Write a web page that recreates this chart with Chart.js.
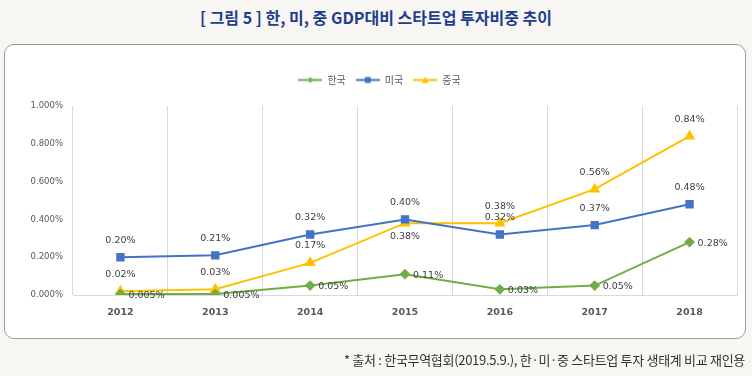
<!DOCTYPE html>
<html>
<head>
<meta charset="utf-8">
<script src="https://cdn.jsdelivr.net/npm/chart.js@4/dist/chart.umd.min.js"></script>
<style>
  html, body { margin: 0; padding: 0; }
  body { width: 752px; height: 376px; background: #f8f6f2; position: relative; overflow: hidden; font-family: "Noto Sans CJK KR", sans-serif; }
  #title { position: absolute; left: 0; top: 5px; width: 752px; text-align: center; font-size: 16px; font-weight: bold; color: #1f3d8f; line-height: 24px; }
  #box { position: absolute; left: 4px; top: 44px; width: 740px; height: 293px; background: #fff; border: 1.5px solid #9c9c9c; border-radius: 10px; }
  #wrap { position: absolute; left: 0; top: 0; width: 752px; height: 376px; }
  #note { position: absolute; right: 7px; top: 350px; font-size: 13px; color: #333; line-height: 20px; letter-spacing: -0.3px; }
</style>
</head>
<body>
<div id="title">[ 그림 5 ] 한, 미, 중 GDP대비 스타트업 투자비중 추이</div>
<div id="box"></div>
<div id="wrap"><canvas id="chart" width="752" height="376"></canvas></div>
<div id="note">* 출처 : 한국무역협회(2019.5.9.), 한·미·중 스타트업 투자 생태계 비교 재인용</div>
<script>
// values (GDP share, %)
const years = ['2012', '2013', '2014', '2015', '2016', '2017', '2018'];
const korea = [0.005, 0.005, 0.05, 0.11, 0.03, 0.05, 0.28];
const usa = [0.20, 0.21, 0.32, 0.40, 0.32, 0.37, 0.48];
const china = [0.02, 0.03, 0.17, 0.38, 0.38, 0.56, 0.84];
const seriesNames = ['한국', '미국', '중국'];
const yTicks = [0, 0.2, 0.4, 0.6, 0.8, 1.0];

const GREEN = '#70ad47', BLUE = '#4472c4', YELLOW = '#ffc000';

function fmt(v) {
  return v.toFixed(v < 0.01 ? 3 : 2) + '%';
}

// little line+marker swatch for the legend, like excel does it
function swatch(color, shape) {
  const c = document.createElement('canvas');
  c.width = 24; c.height = 9;
  const g = c.getContext('2d');
  g.strokeStyle = color; g.fillStyle = color; g.lineWidth = 2;
  g.beginPath(); g.moveTo(0, 4.5); g.lineTo(24, 4.5); g.stroke();
  g.beginPath();
  if (shape === 'diamond') {
    g.moveTo(12, 1.5); g.lineTo(15, 4.5); g.lineTo(12, 7.5); g.lineTo(9, 4.5);
  } else if (shape === 'square') {
    g.rect(9, 1.5, 6, 6);
  } else {
    g.moveTo(12, 1); g.lineTo(15.5, 7.5); g.lineTo(8.5, 7.5);
  }
  g.closePath(); g.fill();
  return c;
}
const swatches = [swatch(GREEN, 'diamond'), swatch(BLUE, 'square'), swatch(YELLOW, 'triangle')];

// value labels next to each point
const valueLabels = {
  id: 'valueLabels',
  afterDatasetsDraw(chart) {
    const ctx = chart.ctx;
    ctx.save();
    ctx.font = '9.5px "DejaVu Sans"';
    ctx.fillStyle = '#404040';
    chart.data.datasets.forEach((ds, i) => {
      const meta = chart.getDatasetMeta(i);
      meta.data.forEach((pt, j) => {
        const pos = ds.labelPos[j];
        const txt = fmt(ds.data[j]);
        if (pos === 'right') {
          ctx.textAlign = 'left'; ctx.textBaseline = 'middle';
          ctx.fillText(txt, pt.x + 8, pt.y + 1);
        } else if (pos === 'bottom') {
          ctx.textAlign = 'center'; ctx.textBaseline = 'middle';
          ctx.fillText(txt, pt.x, pt.y + 13);
        } else {
          ctx.textAlign = 'center'; ctx.textBaseline = 'middle';
          ctx.fillText(txt, pt.x, pt.y - 17);
        }
      });
    });
    ctx.restore();
  }
};

const ctx = document.getElementById('chart').getContext('2d');
const chart = new Chart(ctx, {
  type: 'line',
  data: {
    labels: years,
    datasets: [
      { label: seriesNames[0], data: korea, borderColor: GREEN, backgroundColor: GREEN, borderWidth: 2,
        pointStyle: 'rectRot', pointRadius: 4, tension: 0, labelPos: years.map(() => 'right') },
      { label: seriesNames[1], data: usa, borderColor: BLUE, backgroundColor: BLUE, borderWidth: 2,
        pointStyle: 'rect', pointRadius: 4.5, tension: 0, labelPos: years.map(() => 'top') },
      { label: seriesNames[2], data: china, borderColor: YELLOW, backgroundColor: YELLOW, borderWidth: 2,
        pointStyle: 'triangle', pointRadius: 4.5, tension: 0,
        labelPos: ['top', 'top', 'top', 'bottom', 'top', 'top', 'top'] }
    ]
  },
  options: {
    responsive: false,
    animation: false,
    layout: { padding: { left: 22, right: 15, top: 65, bottom: 51 } },
    plugins: {
      tooltip: { enabled: false },
      legend: {
        position: 'top',
        labels: {
          usePointStyle: true,
          pointStyleWidth: 24,
          padding: 10,
          color: '#595959',
          font: { family: '"Noto Sans CJK KR"', size: 10 },
          generateLabels: (c) => {
            const items = Chart.defaults.plugins.legend.labels.generateLabels(c);
            items.forEach((it, i) => { it.pointStyle = swatches[i]; });
            return items;
          }
        }
      },
      // empty spacer between legend and plot
      subtitle: { display: true, text: '', weight: 500, font: { size: 1, lineHeight: 1 }, padding: { top: 0, bottom: 10 } }
    },
    scales: {
      x: {
        offset: true,
        grid: {
          offset: true,
          drawTicks: false,
          color: (c) => c.index >= years.length ? 'rgba(0,0,0,0)' : '#d9d9d9'
        },
        border: { display: true, color: '#d9d9d9' },
        ticks: { color: '#595959', padding: 12, font: { family: '"DejaVu Sans"', size: 9.5, weight: 'bold' } },
        afterFit: (s) => { s.height = 30; }
      },
      y: {
        min: 0,
        max: 1,
        afterBuildTicks: (s) => { s.ticks = yTicks.map(v => ({ value: v })); },
        grid: { display: false, drawTicks: false },
        border: { display: false },
        ticks: { color: '#595959', padding: 10, font: { family: '"DejaVu Sans"', size: 8.5 },
          callback: (v) => Number(v).toFixed(3) + '%' },
        afterFit: (s) => { s.width = 51; }
      }
    }
  },
  plugins: [valueLabels]
});
</script>
</body>
</html>
